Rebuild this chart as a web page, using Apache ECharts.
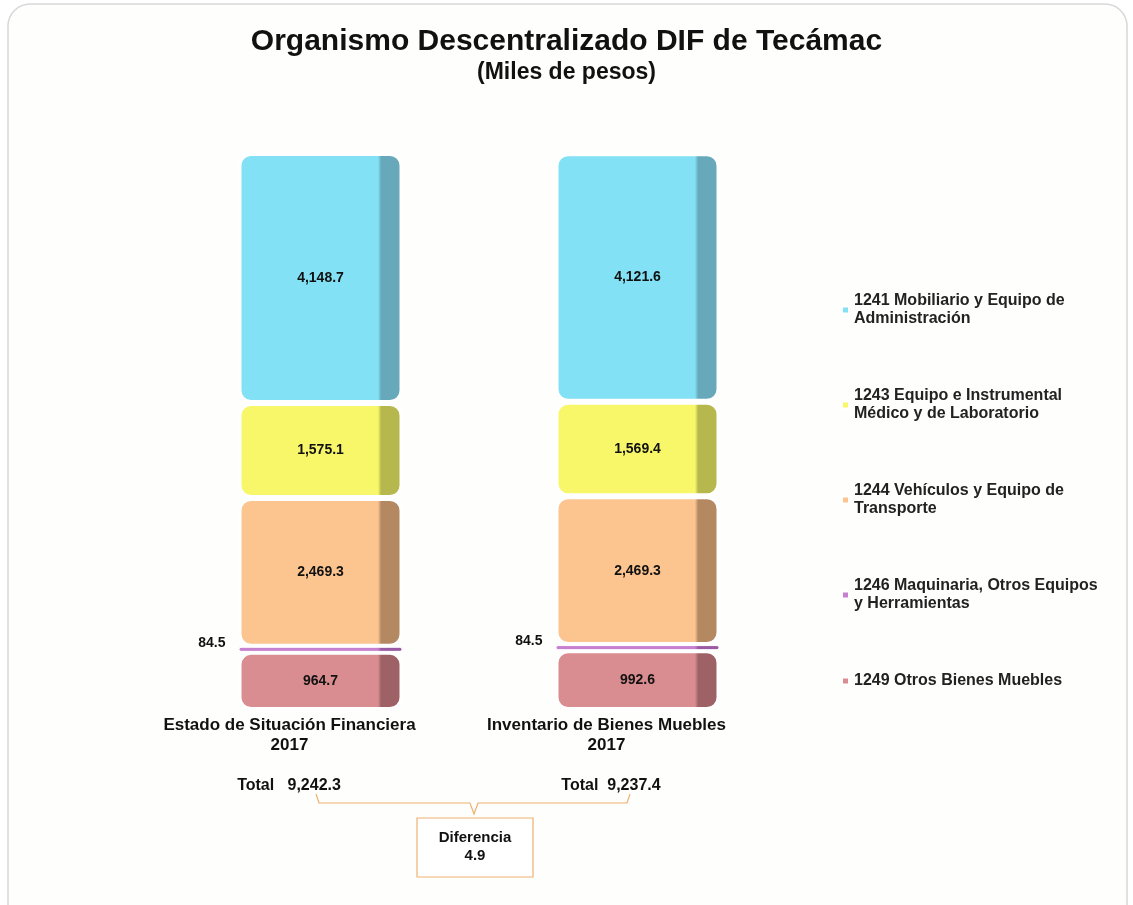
<!DOCTYPE html>
<html>
<head>
<meta charset="utf-8">
<script src="https://cdn.jsdelivr.net/npm/echarts@6/dist/echarts.min.js"></script>
<style>
  html, body { margin: 0; padding: 0; background: #fff; }
  #container { width: 1133px; height: 905px; }
</style>
</head>
<body>
<div id="container"></div>
<script>
var dom     = document.getElementById("container");
var myChart = echarts.init(dom);

// categorias (eje x)
var categorias = ['Estado de Situación Financiera\n2017', 'Inventario de Bienes Muebles\n2017'];

// cuentas, de abajo hacia arriba en la pila
var cuenta1249 = [964.7, 992.6];
var cuenta1246 = [84.5, 84.5];
var cuenta1244 = [2469.3, 2469.3];
var cuenta1243 = [1575.1, 1569.4];
var cuenta1241 = [4148.7, 4121.6];

var nombres = [
    '1249 Otros Bienes Muebles',
    '1246 Maquinaria, Otros Equipos\ny Herramientas',
    '1244 Vehículos y Equipo de\nTransporte',
    '1243 Equipo e Instrumental\nMédico y de Laboratorio',
    '1241 Mobiliario y Equipo de\nAdministración'
];
var datos = [cuenta1249, cuenta1246, cuenta1244, cuenta1243, cuenta1241];

// cara frontal y lateral de cada bloque
var colores = [
    ['#d98d90', '#9e6266'],
    ['#c77fd0', '#9a5aa3'],
    ['#fcc590', '#b48962'],
    ['#f8f76a', '#b6b74c'],
    ['#82e1f4', '#67a9ba']
];

var fuente = 'Liberation Sans, Arial';

function fmt(v) {
    return v.toLocaleString('en-US', {minimumFractionDigits: 1, maximumFractionDigits: 1});
}

function bloque(c) {
    return new echarts.graphic.LinearGradient(0, 0, 1, 0, [
        {offset: 0, color: c[0]},
        {offset: 0.85, color: c[0]},
        {offset: 0.87, color: c[1]},
        {offset: 1, color: c[1]}
    ]);
}

var totales = [0, 0];
for (var i = 0; i < datos.length; i++) {
    totales[0] += datos[i][0];
    totales[1] += datos[i][1];
}
var diferencia = totales[0] - totales[1];

var series = [];
for (var k = 0; k < datos.length; k++) {
    var delgado = datos[k][0] < 200;
    series.push({
        name: nombres[k],
        type: 'bar',
        stack: 'total',
        barWidth: 164,
        data: datos[k],
        itemStyle: {
            color: bloque(colores[k]),
            borderColor: '#ffffff',
            borderWidth: delgado ? 1 : 3,
            borderRadius: delgado ? 3 : 11
        },
        label: {
            show: true,
            position: delgado ? 'left' : 'inside',
            offset: delgado ? [-8, -6] : [0, 0],
            formatter: function (p) { return fmt(p.value); },
            fontFamily: fuente,
            fontWeight: 'bold',
            fontSize: 14,
            color: '#111'
        }
    });
}

var naranja = '#eeb070';

option = {
    backgroundColor: '#ffffff',
    animation: false,
    title: {
        text: 'Organismo Descentralizado DIF de Tecámac',
        subtext: '(Miles de pesos)',
        left: 'center',
        top: 22,
        itemGap: 4,
        textStyle: {
            fontFamily: fuente,
            fontWeight: 'bold',
            fontSize: 30,
            color: '#111'
        },
        subtextStyle: {
            fontFamily: fuente,
            fontWeight: 'bold',
            fontSize: 23,
            color: '#111'
        }
    },
    legend: {
        orient: 'vertical',
        left: 836,
        top: 287,
        itemGap: 59,
        itemWidth: 7,
        itemHeight: 7,
        icon: 'rect',
        data: nombres.slice().reverse(),
        textStyle: {
            fontFamily: fuente,
            fontWeight: 'bold',
            fontSize: 16,
            lineHeight: 18,
            color: '#222'
        }
    },
    grid: {
        left: 162,
        width: 634,
        top: 153,
        bottom: 195
    },
    xAxis: {
        type: 'category',
        data: categorias,
        axisLine: {show: false},
        axisTick: {show: false},
        axisLabel: {
            interval: 0,
            margin: 5,
            padding: [0, 62, 0, 0],
            fontFamily: fuente,
            fontWeight: 'bold',
            fontSize: 17,
            lineHeight: 20,
            color: '#111'
        }
    },
    yAxis: {
        type: 'value',
        min: 0,
        max: 'dataMax',
        show: false,
        splitLine: {show: false}
    },
    graphic: [
        {
            type: 'rect', z: -10, silent: true,
            shape: {x: 8, y: 4, width: 1119, height: 930, r: 22},
            style: {fill: '#fefefd', stroke: '#d8d8d8', lineWidth: 1.5}
        },
        {
            type: 'text', x: 289, y: 786,
            style: {
                text: 'Total   ' + fmt(totales[0]),
                align: 'center', verticalAlign: 'middle',
                font: 'bold 16px "Liberation Sans", Arial', fill: '#111'
            }
        },
        {
            type: 'text', x: 611, y: 786,
            style: {
                text: 'Total  ' + fmt(totales[1]),
                align: 'center', verticalAlign: 'middle',
                font: 'bold 16px "Liberation Sans", Arial', fill: '#111'
            }
        },
        {
            type: 'polyline', silent: true,
            shape: {points: [[316, 794], [319, 803], [470, 803], [474, 814], [478, 803], [627, 803], [630, 794]]},
            style: {stroke: naranja, lineWidth: 1.2, fill: null}
        },
        {
            type: 'rect', silent: true,
            shape: {x: 417, y: 818, width: 116, height: 59},
            style: {fill: '#ffffff', stroke: naranja, lineWidth: 1.2}
        },
        {
            type: 'text', x: 475, y: 847,
            style: {
                text: 'Diferencia\n' + fmt(diferencia),
                align: 'center', verticalAlign: 'middle',
                font: 'bold 15px "Liberation Sans", Arial',
                lineHeight: 18,
                fill: '#111'
            }
        }
    ],
    series: series
};

myChart.setOption(option);
</script>
</body>
</html>
